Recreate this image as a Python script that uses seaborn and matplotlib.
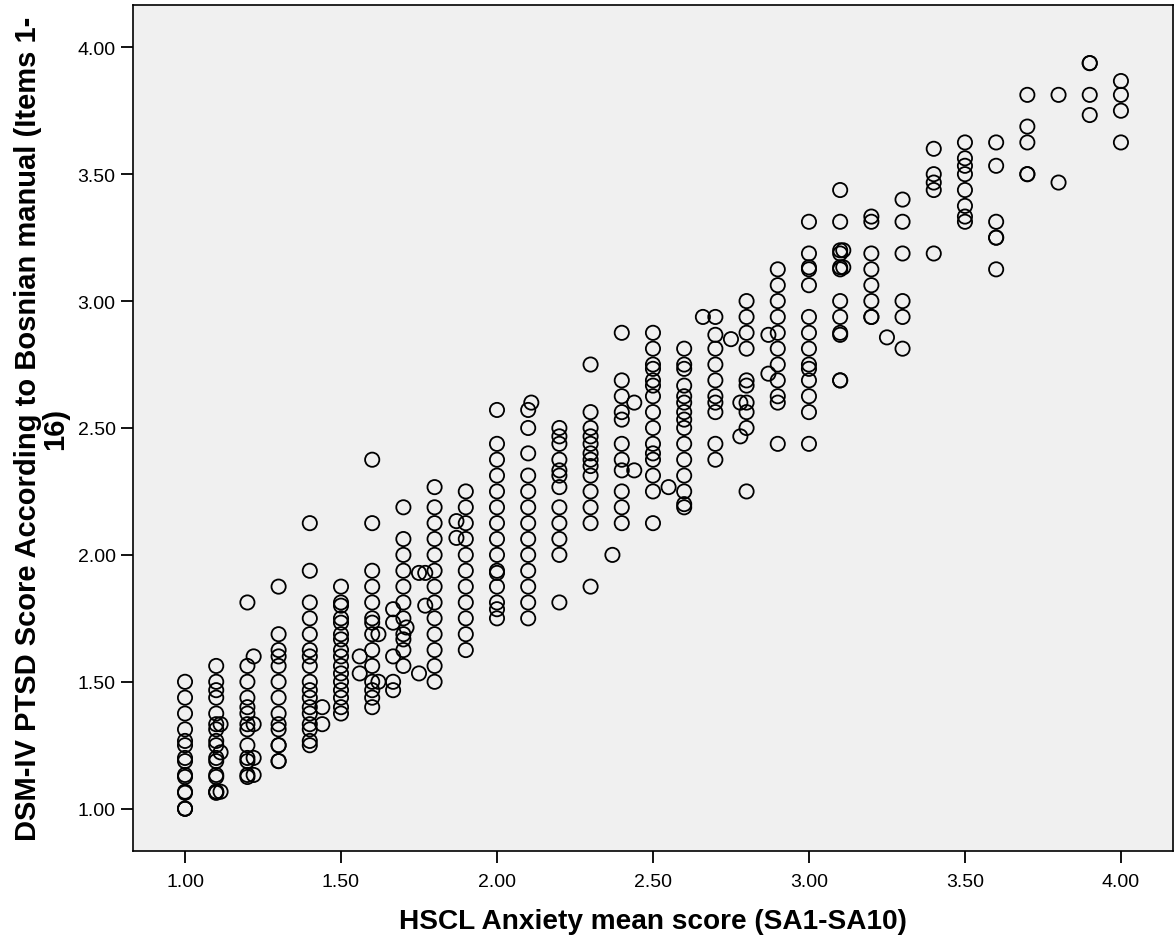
import pandas as pd
import seaborn as sns
import matplotlib
matplotlib.use("Agg")
import matplotlib.pyplot as plt

# HSCL anxiety mean score (x) -> PTSD scores (y) observed at that x
col_100 = [1.0, 1.0, 1.0, 1.0625, 1.067, 1.125, 1.133, 1.1875, 1.2, 1.25, 1.267, 1.3125, 1.375, 1.4375, 1.5]
col_110 = [1.0625, 1.067, 1.067, 1.125, 1.133, 1.1875, 1.2, 1.25, 1.267, 1.3125, 1.333, 1.375, 1.4375, 1.467, 1.5, 1.5625]
col_111 = [1.067, 1.222, 1.333]
col_120 = [1.125, 1.133, 1.1875, 1.2, 1.25, 1.3125, 1.333, 1.375, 1.4, 1.4375, 1.5, 1.5625, 1.8125]
col_122 = [1.133, 1.2, 1.333, 1.6]
col_130 = [1.1875, 1.1875, 1.25, 1.25, 1.3125, 1.333, 1.375, 1.4375, 1.5, 1.5625, 1.6, 1.625, 1.6875, 1.875]
col_140 = [1.25, 1.267, 1.3125, 1.333, 1.375, 1.4, 1.4375, 1.467, 1.5, 1.5625, 1.6, 1.625, 1.6875, 1.75, 1.8125, 1.9375, 2.125]
col_144 = [1.333, 1.4]
col_150 = [1.375, 1.4, 1.4375, 1.467, 1.5, 1.533, 1.5625, 1.6, 1.625, 1.667, 1.6875, 1.733, 1.75, 1.8, 1.8125, 1.875]
col_156 = [1.533, 1.6]
col_160 = [1.4, 1.4375, 1.467, 1.5, 1.5625, 1.625, 1.6875, 1.733, 1.75, 1.8125, 1.875, 1.9375, 2.125, 2.375]
col_162 = [1.5, 1.6875]
col_167 = [1.467, 1.5, 1.6, 1.733, 1.786]
col_170 = [1.5625, 1.625, 1.667, 1.6875, 1.75, 1.8125, 1.875, 1.9375, 2.0, 2.0625, 2.1875]
col_171 = [1.714]
col_175 = [1.533, 1.929]
col_177 = [1.8, 1.929]
col_180 = [1.5, 1.5625, 1.625, 1.6875, 1.75, 1.8125, 1.875, 1.9375, 2.0, 2.0625, 2.125, 2.1875, 2.267]
col_187 = [2.067, 2.133]
col_190 = [1.625, 1.6875, 1.75, 1.8125, 1.875, 1.9375, 2.0, 2.0625, 2.125, 2.1875, 2.25]
col_200 = [1.75, 1.786, 1.8125, 1.875, 1.929, 1.9375, 2.0, 2.0625, 2.125, 2.1875, 2.25, 2.3125, 2.375, 2.4375, 2.571]
col_210 = [1.75, 1.8125, 1.875, 1.9375, 2.0, 2.0625, 2.125, 2.1875, 2.25, 2.3125, 2.4, 2.5, 2.571]
col_211 = [2.6]
col_220 = [1.8125, 2.0, 2.0625, 2.125, 2.1875, 2.267, 2.3125, 2.333, 2.375, 2.4375, 2.467, 2.5]
col_230 = [1.875, 2.125, 2.1875, 2.25, 2.3125, 2.35, 2.375, 2.4, 2.4375, 2.467, 2.5, 2.5625, 2.75]
col_237 = [2.0]
col_240 = [2.125, 2.1875, 2.25, 2.333, 2.375, 2.4375, 2.533, 2.5625, 2.625, 2.6875, 2.875]
col_244 = [2.333, 2.6]
col_250 = [2.125, 2.25, 2.3125, 2.375, 2.4, 2.4375, 2.5, 2.5625, 2.625, 2.667, 2.6875, 2.733, 2.75, 2.8125, 2.875]
col_255 = [2.267]
col_260 = [2.1875, 2.2, 2.25, 2.3125, 2.375, 2.4375, 2.5, 2.533, 2.5625, 2.6, 2.625, 2.667, 2.733, 2.75, 2.8125]
col_266 = [2.9375]
col_270 = [2.375, 2.4375, 2.5625, 2.6, 2.625, 2.6875, 2.75, 2.8125, 2.867, 2.9375]
col_275 = [2.85]
col_278 = [2.467, 2.6]
col_280 = [2.25, 2.5, 2.5625, 2.6, 2.667, 2.6875, 2.8125, 2.875, 2.9375, 3.0]
col_287 = [2.714, 2.867]
col_290 = [2.4375, 2.6, 2.625, 2.6875, 2.75, 2.8125, 2.875, 2.9375, 3.0, 3.0625, 3.125]
col_300 = [2.4375, 2.5625, 2.625, 2.6875, 2.733, 2.75, 2.8125, 2.875, 2.9375, 3.0625, 3.125, 3.133, 3.1875, 3.3125]
col_310 = [2.6875, 2.6875, 2.867, 2.875, 2.9375, 3.0, 3.125, 3.133, 3.1875, 3.2, 3.3125, 3.4375]
col_311 = [3.133, 3.2]
col_320 = [2.9375, 2.9375, 3.0, 3.0625, 3.125, 3.1875, 3.3125, 3.333]
col_325 = [2.857]
col_330 = [2.8125, 2.9375, 3.0, 3.1875, 3.3125, 3.4]
col_340 = [3.1875, 3.4375, 3.467, 3.5, 3.6]
col_350 = [3.3125, 3.333, 3.375, 3.4375, 3.5, 3.533, 3.5625, 3.625]
col_360 = [3.125, 3.25, 3.25, 3.3125, 3.533, 3.625]
col_370 = [3.5, 3.5, 3.625, 3.6875, 3.8125]
col_380 = [3.467, 3.8125]
col_390 = [3.733, 3.8125, 3.9375, 3.9375]
col_400 = [3.625, 3.75, 3.8125, 3.867]

columns = [
    (1.00, col_100), (1.10, col_110), (1.114, col_111), (1.20, col_120), (1.22, col_122),
    (1.30, col_130), (1.40, col_140), (1.44, col_144), (1.50, col_150), (1.56, col_156),
    (1.60, col_160), (1.62, col_162), (1.667, col_167), (1.70, col_170), (1.71, col_171),
    (1.75, col_175), (1.77, col_177), (1.80, col_180), (1.87, col_187), (1.90, col_190),
    (2.00, col_200), (2.10, col_210), (2.11, col_211), (2.20, col_220), (2.30, col_230),
    (2.37, col_237), (2.40, col_240), (2.44, col_244), (2.50, col_250), (2.55, col_255),
    (2.60, col_260), (2.66, col_266), (2.70, col_270), (2.75, col_275), (2.78, col_278),
    (2.80, col_280), (2.87, col_287), (2.90, col_290), (3.00, col_300), (3.10, col_310),
    (3.11, col_311), (3.20, col_320), (3.25, col_325), (3.30, col_330), (3.40, col_340),
    (3.50, col_350), (3.60, col_360), (3.70, col_370), (3.80, col_380), (3.90, col_390),
    (4.00, col_400),
]

ticks = [1.0, 1.5, 2.0, 2.5, 3.0, 3.5, 4.0]
tick_labels = ["1.00", "1.50", "2.00", "2.50", "3.00", "3.50", "4.00"]

rows = [(x, y) for x, ys in columns for y in ys]
df = pd.DataFrame(rows, columns=["hscl", "ptsd"])

sns.set_style("ticks")
plt.rcParams["font.family"] = ["Liberation Sans", "DejaVu Sans"]
plt.rcParams["text.color"] = "black"
plt.rcParams["axes.labelcolor"] = "black"

fig = plt.figure(figsize=(11.76, 9.45), dpi=100)
ax = fig.add_axes([0.1131, 0.0984, 0.8843, 0.8953])
ax.set_facecolor("#f0f0f0")

sns.scatterplot(data=df, x="hscl", y="ptsd", ax=ax, marker="o", s=105,
                facecolor="none", edgecolor="black", linewidth=1.3)

ax.set_xlim(0.8333, 4.1667)
ax.set_ylim(0.8333, 4.1667)
ax.set_xticks(ticks)
ax.set_xticklabels(tick_labels)
ax.set_yticks(ticks)
ax.set_yticklabels(tick_labels)
ax.tick_params(axis="both", length=8.5, width=1.3, labelsize=14, color="black", labelcolor="black", pad=4)
ax.tick_params(axis="x", pad=7)

for sp in ax.spines.values():
    sp.set_visible(True)
    sp.set_color("black")
    sp.set_linewidth(1.2)

ax.set_xlabel("HSCL Anxiety mean score (SA1-SA10)", fontsize=20.2, fontweight="bold", labelpad=13)
ax.set_ylabel("DSM-IV PTSD Score According to Bosnian manual (Items 1-\n16)",
              fontsize=21, fontweight="bold", labelpad=6, linespacing=0.95)

fig.savefig("out.png", dpi=100)
